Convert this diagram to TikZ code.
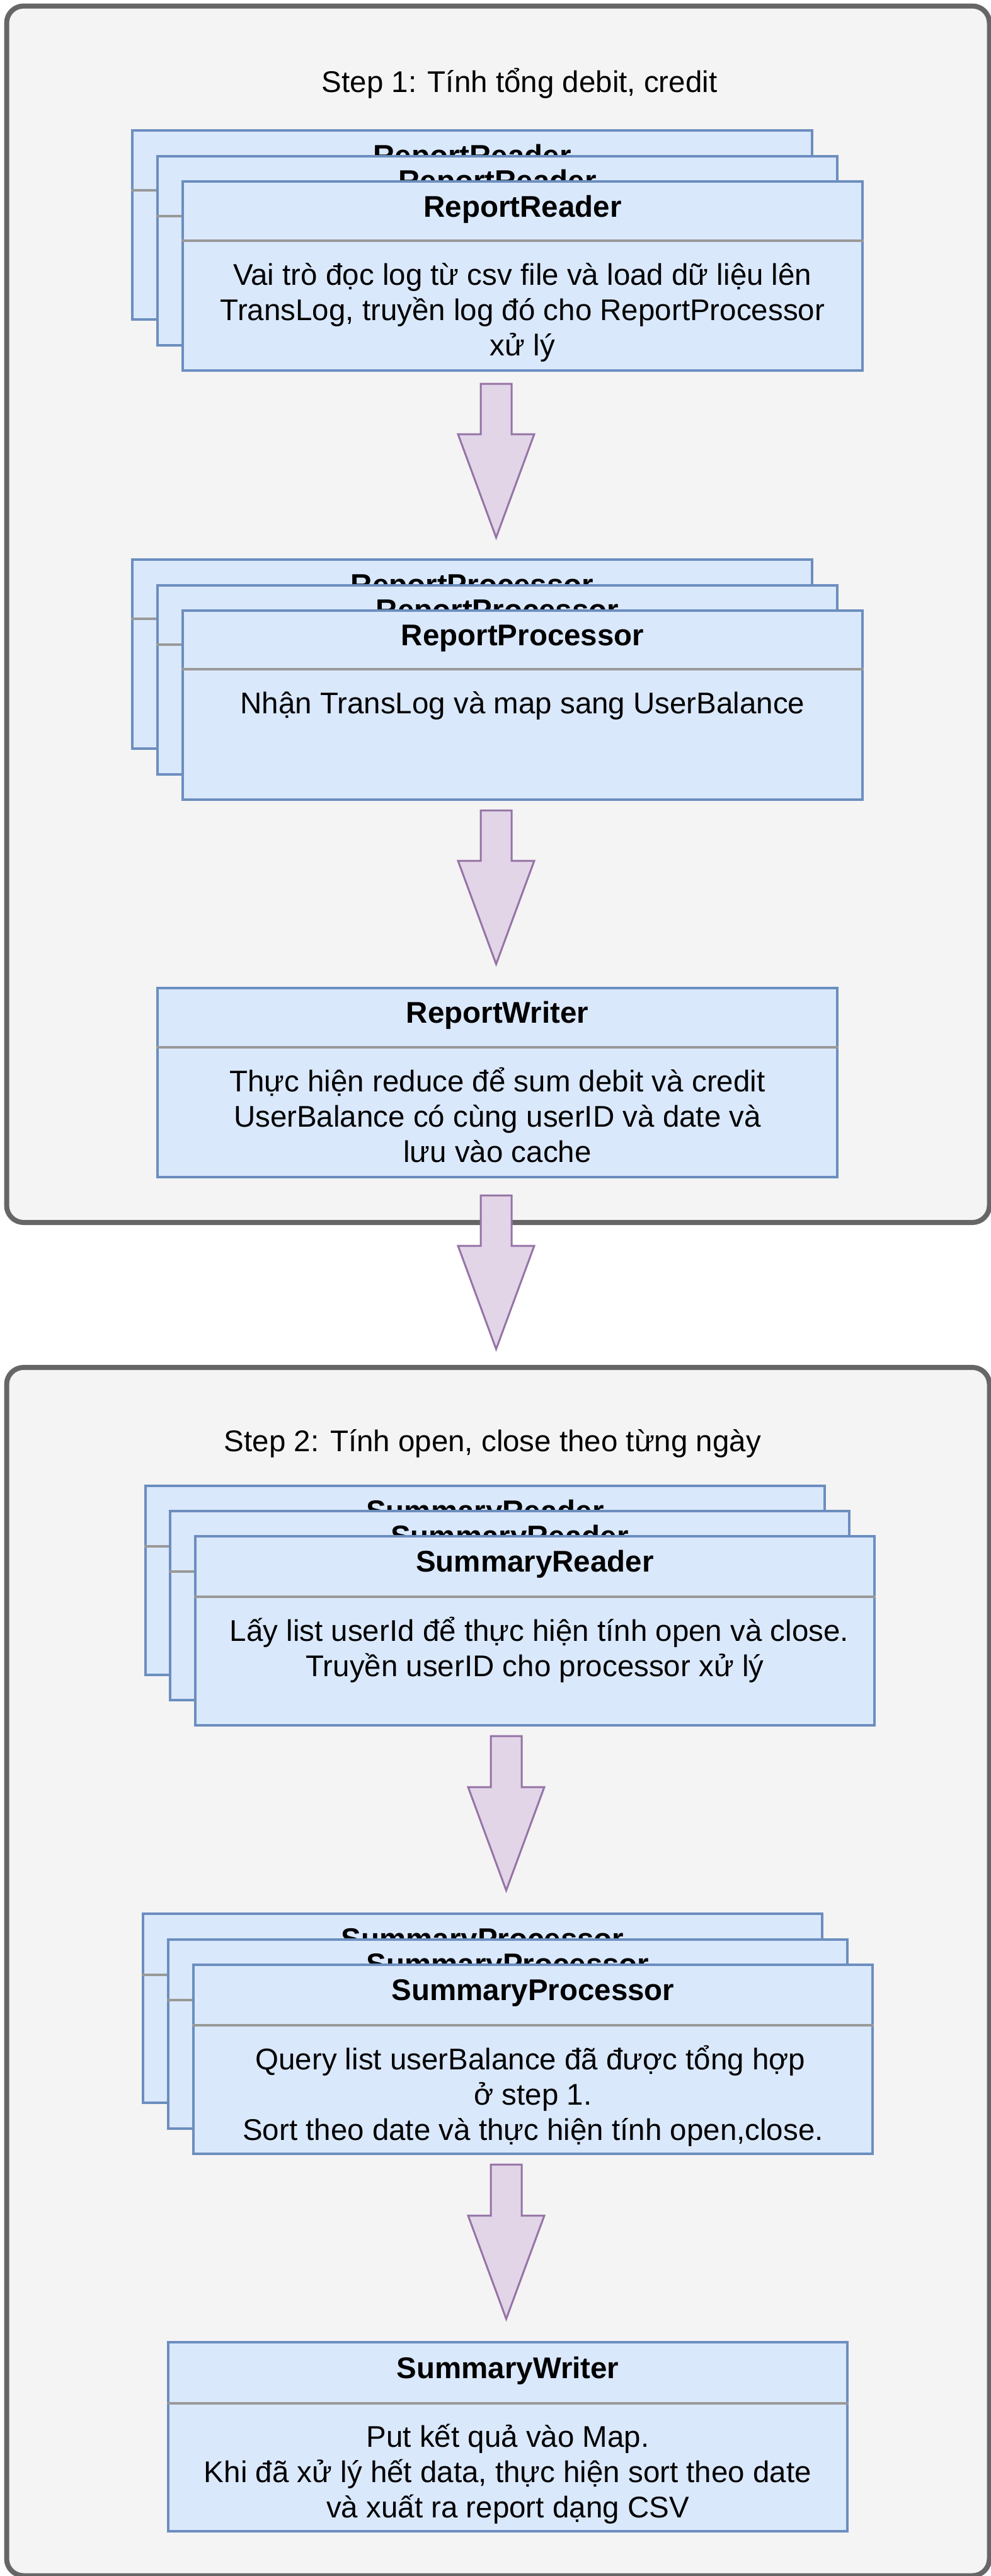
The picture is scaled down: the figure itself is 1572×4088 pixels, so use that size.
\documentclass[tikz,border=0pt]{standalone}
\usepackage{fontspec}
\setmainfont{Liberation Sans}
\usetikzlibrary{calc}
\definecolor{grpfill}{HTML}{F4F4F4}
\definecolor{grpline}{HTML}{666666}
\definecolor{clsfill}{HTML}{DAE8FC}
\definecolor{clsline}{HTML}{6C8EBF}
\definecolor{sepgray}{HTML}{999999}
\definecolor{arrfill}{HTML}{E1D5E7}
\definecolor{arrline}{HTML}{9673A6}
\newcommand\dfont{\fontsize{47.5pt}{56pt}\selectfont}
\newcommand\blockarrow[2]{%
  \draw[blk] ($(#1)+(-24.5,0)$) -- ($(#1)+(24.5,0)$) -- ($(#2)+(24.5,-164)$) -- ($(#2)+(60.5,-164)$) -- (#2) -- ($(#2)+(-60.5,-164)$) -- ($(#2)+(-24.5,-164)$) -- cycle;}
\tikzset{
  group/.style={draw=grpline, fill=grpfill, line width=8pt, rounded corners=27pt, inner sep=0pt, anchor=north west},
  cls/.style={draw=clsline, fill=clsfill, line width=4pt, inner sep=0pt, anchor=north west, minimum height=300pt},
  sepline/.style={draw=sepgray, line width=4pt},
  ttl/.style={font=\dfont\bfseries, anchor=base, inner sep=0pt},
  txt/.style={font=\dfont, anchor=base, inner sep=0pt},
  blk/.style={draw=arrline, fill=arrfill, line width=3pt, line join=miter},
}
\begin{document}
\begin{tikzpicture}[x=1pt,y=-1pt]
\useasboundingbox (0,0) rectangle (1572,4088);
% ---------- Step 1 group ----------
\node[group, minimum width=1560pt, minimum height=1930.5pt] (g1) at (6.5,5.5) {};
\node[txt] (g1t) at (824.6,146) {Step 1: Tính tổng debit, credit};

% ReportReader stack
\node[cls, minimum width=1079pt] (rrB) at (208,205) {};
\node[ttl] (rrBt) at ($(rrB.north)+(0,58)$) {ReportReader};
\draw[sepline] ($(rrB.north west)+(0,97)$) -- ($(rrB.north east)+(0,97)$);
\node[cls, minimum width=1079pt] (rrM) at (248,245.5) {};
\node[ttl] (rrMt) at ($(rrM.north)+(0,58)$) {ReportReader};
\draw[sepline] ($(rrM.north west)+(0,97)$) -- ($(rrM.north east)+(0,97)$);
\node[cls, minimum width=1079pt] (rrF) at (288,286) {};
\node[ttl] (rrFt) at ($(rrF.north)+(0,58)$) {ReportReader};
\draw[sepline] ($(rrF.north west)+(0,96)$) -- ($(rrF.north east)+(0,96)$);
\node[txt] (rr1) at ($(rrF.north)+(0,166)$) {Vai trò đọc log từ csv file và load dữ liệu lên};
\node[txt] (rr2) at ($(rrF.north)+(0,222)$) {TransLog, truyền log đó cho ReportProcessor};
\node[txt] (rr3) at ($(rrF.north)+(0,278)$) {xử lý};

% ReportProcessor stack
\node[cls, minimum width=1079pt] (rpB) at (208,886) {};
\node[ttl] (rpBt) at ($(rpB.north)+(0,58)$) {ReportProcessor};
\draw[sepline] ($(rpB.north west)+(0,96)$) -- ($(rpB.north east)+(0,96)$);
\node[cls, minimum width=1079pt] (rpM) at (248,926.5) {};
\node[ttl] (rpMt) at ($(rpM.north)+(0,58)$) {ReportProcessor};
\draw[sepline] ($(rpM.north west)+(0,96)$) -- ($(rpM.north east)+(0,96)$);
\node[cls, minimum width=1079pt] (rpF) at (288,967) {};
\node[ttl] (rpFt) at ($(rpF.north)+(0,57)$) {ReportProcessor};
\draw[sepline] ($(rpF.north west)+(0,95)$) -- ($(rpF.north east)+(0,95)$);
\node[txt] (rp1) at ($(rpF.north)+(0,165)$) {Nhận TransLog và map sang UserBalance};

% ReportWriter
\node[cls, minimum width=1079pt] (rw) at (248,1566) {};
\node[ttl] (rwt) at ($(rw.north)+(0,57)$) {ReportWriter};
\draw[sepline] ($(rw.north west)+(0,96)$) -- ($(rw.north east)+(0,96)$);
\node[txt] (rw1) at ($(rw.north)+(0,166)$) {Thực hiện reduce để sum debit và credit};
\node[txt] (rw2) at ($(rw.north)+(0,222)$) {UserBalance có cùng userID và date và};
\node[txt] (rw3) at ($(rw.north)+(0,278)$) {lưu vào cache};

% ---------- Step 2 group ----------
\node[group, minimum width=1560pt, minimum height=1917.5pt] (g2) at (6.5,2166) {};
\node[txt] (g2t) at (782,2303) {Step 2: Tính open, close theo từng ngày};

% SummaryReader stack
\node[cls, minimum width=1078pt] (srB) at (229,2356) {};
\node[ttl] (srBt) at ($(srB.north)+(0,58)$) {SummaryReader};
\draw[sepline] ($(srB.north west)+(0,98)$) -- ($(srB.north east)+(0,98)$);
\node[cls, minimum width=1078pt] (srM) at (268,2396) {};
\node[ttl] (srMt) at ($(srM.north)+(0,58)$) {SummaryReader};
\draw[sepline] ($(srM.north west)+(0,98)$) -- ($(srM.north east)+(0,98)$);
\node[cls, minimum width=1078pt] (srF) at (308,2436) {};
\node[ttl] (srFt) at ($(srF.north)+(0,58)$) {SummaryReader};
\draw[sepline] ($(srF.north west)+(0,98)$) -- ($(srF.north east)+(0,98)$);
\node[txt] (sr1) at ($(srF.north)+(7,168)$) {Lấy list userId để thực hiện tính open và close.};
\node[txt] (sr2) at ($(srF.north)+(0,224)$) {Truyền userID cho processor xử lý};

% SummaryProcessor stack
\node[cls, minimum width=1078pt] (spB) at (225,3035) {};
\node[ttl] (spBt) at ($(spB.north)+(0,58)$) {SummaryProcessor};
\draw[sepline] ($(spB.north west)+(0,99)$) -- ($(spB.north east)+(0,99)$);
\node[cls, minimum width=1078pt] (spM) at (265,3075.5) {};
\node[ttl] (spMt) at ($(spM.north)+(0,58)$) {SummaryProcessor};
\draw[sepline] ($(spM.north west)+(0,98)$) -- ($(spM.north east)+(0,98)$);
\node[cls, minimum width=1078pt] (spF) at (305,3116) {};
\node[ttl] (spFt) at ($(spF.north)+(0,58)$) {SummaryProcessor};
\draw[sepline] ($(spF.north west)+(0,98)$) -- ($(spF.north east)+(0,98)$);
\node[txt] (sp1) at ($(spF.north)+(-4,168)$) {Query list userBalance đã được tổng hợp};
\node[txt] (sp2) at ($(spF.north)+(0,224)$) {ở step 1.};
\node[txt] (sp3) at ($(spF.north)+(0,280)$) {Sort theo date và thực hiện tính open,close.};

% SummaryWriter
\node[cls, minimum width=1078pt] (sw) at (265,3715) {};
\node[ttl] (swt) at ($(sw.north)+(0,59)$) {SummaryWriter};
\draw[sepline] ($(sw.north west)+(0,99)$) -- ($(sw.north east)+(0,99)$);
\node[txt] (sw1) at ($(sw.north)+(0,168)$) {Put kết quả vào Map.};
\node[txt] (sw2) at ($(sw.north)+(0,224)$) {Khi đã xử lý hết data, thực hiện sort theo date};
\node[txt] (sw3) at ($(sw.north)+(0,280)$) {và xuất ra report dạng CSV};

% ---------- block arrows ----------
\coordinate (a1s) at (787.5,609);  \coordinate (a1t) at (787.5,853);
\coordinate (a2s) at (787.5,1286); \coordinate (a2t) at (787.5,1530);
\coordinate (a3s) at (787.5,1897); \coordinate (a3t) at (787.5,2141);
\coordinate (a4s) at (803.5,2755); \coordinate (a4t) at (803.5,3000);
\coordinate (a5s) at (803.5,3435); \coordinate (a5t) at (803.5,3680);
\blockarrow{a1s}{a1t}
\blockarrow{a2s}{a2t}
\blockarrow{a3s}{a3t}
\blockarrow{a4s}{a4t}
\blockarrow{a5s}{a5t}
\end{tikzpicture}
\end{document}
